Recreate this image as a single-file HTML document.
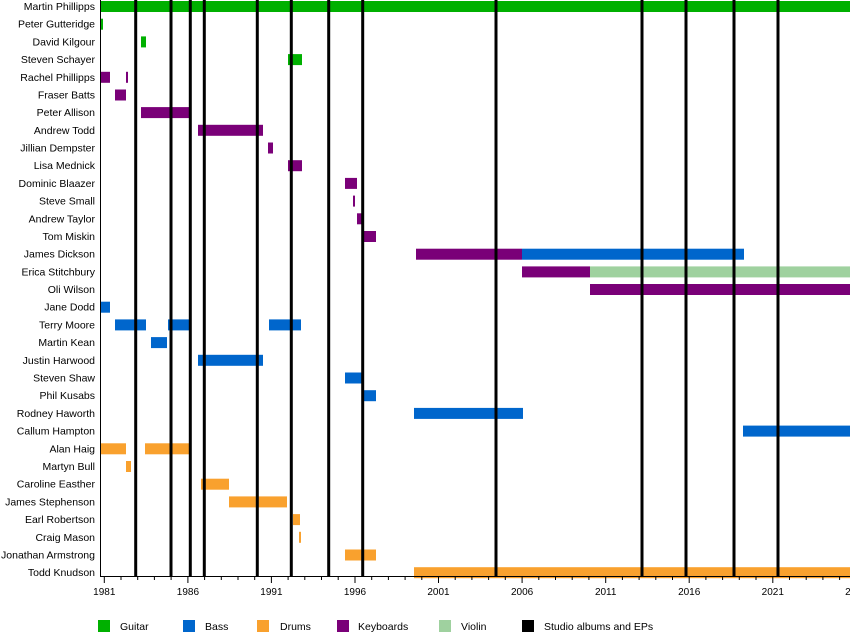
<!DOCTYPE html>
<html><head><meta charset="utf-8"><style>
html,body{margin:0;padding:0;background:#fff;}
svg{display:block;font-family:"Liberation Sans",sans-serif;}
</style></head><body>
<svg width="850" height="636" viewBox="0 0 850 636" xmlns="http://www.w3.org/2000/svg">
<g font-size="10.5" text-anchor="end" fill="#000">
<text x="95" y="10">Martin Phillipps</text>
<text x="95" y="27.7">Peter Gutteridge</text>
<text x="95" y="45.4">David Kilgour</text>
<text x="95" y="63.1">Steven Schayer</text>
<text x="95" y="80.8">Rachel Phillipps</text>
<text x="95" y="98.5">Fraser Batts</text>
<text x="95" y="116.2">Peter Allison</text>
<text x="95" y="133.8">Andrew Todd</text>
<text x="95" y="151.5">Jillian Dempster</text>
<text x="95" y="169.2">Lisa Mednick</text>
<text x="95" y="186.9">Dominic Blaazer</text>
<text x="95" y="204.6">Steve Small</text>
<text x="95" y="222.3">Andrew Taylor</text>
<text x="95" y="240">Tom Miskin</text>
<text x="95" y="257.7">James Dickson</text>
<text x="95" y="275.4">Erica Stitchbury</text>
<text x="95" y="293">Oli Wilson</text>
<text x="95" y="310.7">Jane Dodd</text>
<text x="95" y="328.4">Terry Moore</text>
<text x="95" y="346.1">Martin Kean</text>
<text x="95" y="363.8">Justin Harwood</text>
<text x="95" y="381.5">Steven Shaw</text>
<text x="95" y="399.2">Phil Kusabs</text>
<text x="95" y="416.9">Rodney Haworth</text>
<text x="95" y="434.6">Callum Hampton</text>
<text x="95" y="452.3">Alan Haig</text>
<text x="95" y="470">Martyn Bull</text>
<text x="95" y="487.7">Caroline Easther</text>
<text x="95" y="505.4">James Stephenson</text>
<text x="95" y="523.1">Earl Robertson</text>
<text x="95" y="540.8">Craig Mason</text>
<text x="95" y="558.5">Jonathan Armstrong</text>
<text x="95" y="576.2">Todd Knudson</text>
</g>
<g>
<rect x="101" y="1" width="749" height="11" fill="#00b000"/>
<rect x="101" y="18.7" width="2" height="11" fill="#00b000"/>
<rect x="141" y="36.4" width="5" height="11" fill="#00b000"/>
<rect x="288" y="54.1" width="14" height="11" fill="#00b000"/>
<rect x="101" y="71.8" width="9" height="11" fill="#7a0078"/>
<rect x="126" y="71.8" width="2" height="11" fill="#7a0078"/>
<rect x="115" y="89.5" width="11" height="11" fill="#7a0078"/>
<rect x="141" y="107.1" width="49" height="11" fill="#7a0078"/>
<rect x="198" y="124.8" width="65" height="11" fill="#7a0078"/>
<rect x="268" y="142.5" width="5" height="11" fill="#7a0078"/>
<rect x="288" y="160.2" width="14" height="11" fill="#7a0078"/>
<rect x="345" y="177.9" width="12" height="11" fill="#7a0078"/>
<rect x="353" y="195.6" width="2" height="11" fill="#7a0078"/>
<rect x="357" y="213.3" width="6" height="11" fill="#7a0078"/>
<rect x="363" y="231" width="13" height="11" fill="#7a0078"/>
<rect x="416" y="248.7" width="106" height="11" fill="#7a0078"/>
<rect x="522" y="248.7" width="222" height="11" fill="#0066cc"/>
<rect x="522" y="266.4" width="68" height="11" fill="#7a0078"/>
<rect x="590" y="266.4" width="260" height="11" fill="#9fd19f"/>
<rect x="590" y="284" width="260" height="11" fill="#7a0078"/>
<rect x="101" y="301.7" width="9" height="11" fill="#0066cc"/>
<rect x="115" y="319.4" width="31" height="11" fill="#0066cc"/>
<rect x="168" y="319.4" width="22" height="11" fill="#0066cc"/>
<rect x="269" y="319.4" width="32" height="11" fill="#0066cc"/>
<rect x="151" y="337.1" width="16" height="11" fill="#0066cc"/>
<rect x="198" y="354.8" width="65" height="11" fill="#0066cc"/>
<rect x="345" y="372.5" width="17" height="11" fill="#0066cc"/>
<rect x="363" y="390.2" width="13" height="11" fill="#0066cc"/>
<rect x="414" y="407.9" width="109" height="11" fill="#0066cc"/>
<rect x="743" y="425.6" width="107" height="11" fill="#0066cc"/>
<rect x="101" y="443.3" width="25" height="11" fill="#f9a12e"/>
<rect x="145" y="443.3" width="45" height="11" fill="#f9a12e"/>
<rect x="126" y="461" width="5" height="11" fill="#f9a12e"/>
<rect x="201" y="478.7" width="28" height="11" fill="#f9a12e"/>
<rect x="229" y="496.4" width="58" height="11" fill="#f9a12e"/>
<rect x="293" y="514.1" width="7" height="11" fill="#f9a12e"/>
<rect x="299" y="531.8" width="2" height="11" fill="#f9a12e"/>
<rect x="345" y="549.5" width="31" height="11" fill="#f9a12e"/>
<rect x="414" y="567.2" width="436" height="11" fill="#f9a12e"/>
</g>
<g stroke="#000" stroke-width="3">
<line x1="135.7" y1="0" x2="135.7" y2="577"/>
<line x1="171" y1="0" x2="171" y2="577"/>
<line x1="190.3" y1="0" x2="190.3" y2="577"/>
<line x1="204.3" y1="0" x2="204.3" y2="577"/>
<line x1="257.3" y1="0" x2="257.3" y2="577"/>
<line x1="291.3" y1="0" x2="291.3" y2="577"/>
<line x1="328.7" y1="0" x2="328.7" y2="577"/>
<line x1="362.7" y1="0" x2="362.7" y2="577"/>
<line x1="496" y1="0" x2="496" y2="577"/>
<line x1="642" y1="0" x2="642" y2="577"/>
<line x1="686" y1="0" x2="686" y2="577"/>
<line x1="734" y1="0" x2="734" y2="577"/>
<line x1="778" y1="0" x2="778" y2="577"/>
</g>
<g stroke="#000" stroke-width="1">
<line x1="100.5" y1="0" x2="100.5" y2="577"/>
<line x1="100" y1="576.5" x2="850" y2="576.5"/>
</g>
<path stroke="#000" stroke-width="1" fill="none" d="M104.3 577v6M121 577v3M137.7 577v3M154.4 577v3M171.1 577v3M187.9 577v6M204.6 577v3M221.3 577v3M238 577v3M254.7 577v3M271.4 577v6M288.1 577v3M304.8 577v3M321.5 577v3M338.2 577v3M355 577v6M371.7 577v3M388.4 577v3M405.1 577v3M421.8 577v3M438.5 577v6M455.2 577v3M471.9 577v3M488.6 577v3M505.3 577v3M522.1 577v6M538.8 577v3M555.5 577v3M572.2 577v3M588.9 577v3M605.7 577v6M622.4 577v3M639.1 577v3M655.8 577v3M672.5 577v3M689.2 577v6M705.9 577v3M722.6 577v3M739.3 577v3M756 577v3M772.8 577v6M789.5 577v3M806.2 577v3M822.9 577v3M839.6 577v3"/>
<g font-size="10" text-anchor="middle">
<text x="104.3" y="595">1981</text>
<text x="187.9" y="595">1986</text>
<text x="271.4" y="595">1991</text>
<text x="355" y="595">1996</text>
<text x="438.5" y="595">2001</text>
<text x="522.1" y="595">2006</text>
<text x="605.7" y="595">2011</text>
<text x="689.2" y="595">2016</text>
<text x="772.8" y="595">2021</text>
<text x="856.3" y="595">2026</text>
</g>
<g font-size="10.5">
<rect x="98" y="620" width="12" height="12" fill="#00b000"/><text x="120" y="630">Guitar</text>
<rect x="183" y="620" width="12" height="12" fill="#0066cc"/><text x="205" y="630">Bass</text>
<rect x="257" y="620" width="12" height="12" fill="#f9a12e"/><text x="280" y="630">Drums</text>
<rect x="337" y="620" width="12" height="12" fill="#7a0078"/><text x="358" y="630">Keyboards</text>
<rect x="439" y="620" width="12" height="12" fill="#9fd19f"/><text x="461" y="630">Violin</text>
<rect x="522" y="620" width="12" height="12" fill="#000"/><text x="544" y="630">Studio albums and EPs</text>
</g>
</svg>
</body></html>
